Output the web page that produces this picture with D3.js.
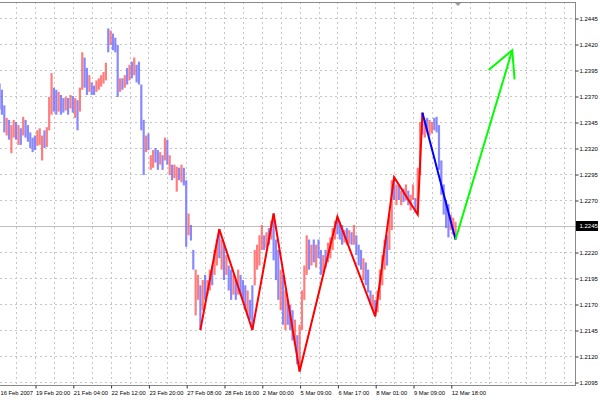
<!DOCTYPE html>
<html><head><meta charset="utf-8">
<script src="https://cdn.jsdelivr.net/npm/d3@7"></script>
<style>body{margin:0;background:#fff}svg{display:block}</style>
</head><body>
<svg id="c" width="600" height="400"></svg>
<script>
// ---- data (bars) ----
const highs = [1.2382,1.2376,1.2361,1.2349,1.2347,1.2342,1.2347,1.2345,1.2342,1.2339,
1.2350,1.2347,1.2342,1.2335,1.2330,1.2332,1.2337,1.2339,1.2332,1.2337,
1.2340,1.2369,1.2392,1.2378,1.2376,1.2374,1.2371,1.2368,1.2369,1.2368,
1.2371,1.2370,1.2368,1.2366,1.2378,1.2412,1.2407,1.2397,1.2390,1.2383,
1.2380,1.2385,1.2387,1.2390,1.2393,1.2402,1.2435,1.2433,1.2430,1.2426,
1.2419,1.2387,1.2387,1.2390,1.2397,1.2400,1.2403,1.2407,1.2400,1.2403,
1.2381,1.2347,1.2332,1.2334,1.2313,1.2318,1.2320,1.2318,1.2316,1.2313,
1.2330,1.2328,1.2313,1.2304,1.2304,1.2302,1.2301,1.2304,1.2301,1.2289,
1.2257,1.2246,1.2222,1.2203,1.2198,1.2188,1.2193,1.2198,1.2193,1.2203,
1.2207,1.2222,1.2232,1.2242,1.2232,1.2227,1.2217,1.2207,1.2203,1.2198,
1.2193,1.2203,1.2198,1.2193,1.2188,1.2183,1.2174,1.2188,1.2222,1.2227,
1.2236,1.2246,1.2236,1.2239,1.2243,1.2250,1.2257,1.2232,1.2222,1.2203,
1.2198,1.2183,1.2174,1.2169,1.2164,1.2155,1.2140,1.2150,1.2183,1.2207,
1.2236,1.2232,1.2227,1.2232,1.2227,1.2232,1.2222,1.2217,1.2222,1.2229,
1.2234,1.2243,1.2250,1.2254,1.2249,1.2246,1.2241,1.2243,1.2241,1.2239,
1.2246,1.2236,1.2227,1.2222,1.2214,1.2210,1.2203,1.2183,1.2179,1.2174,
1.2183,1.2203,1.2217,1.2232,1.2236,1.2256,1.2289,1.2292,1.2285,1.2284,
1.2279,1.2281,1.2285,1.2279,1.2275,1.2285,1.2272,1.2301,1.2345,1.2354,
1.2347,1.2349,1.2347,1.2345,1.2349,1.2350,1.2342,1.2308,1.2285,1.2270,
1.2266,1.2256,1.2253,1.2249];
const lows = [1.2357,1.2352,1.2335,1.2332,1.2328,1.2315,1.2330,1.2328,1.2323,1.2323,
1.2332,1.2330,1.2326,1.2320,1.2316,1.2318,1.2322,1.2323,1.2308,1.2320,
1.2321,1.2337,1.2352,1.2355,1.2352,1.2355,1.2352,1.2354,1.2356,1.2352,
1.2358,1.2354,1.2349,1.2337,1.2355,1.2376,1.2378,1.2371,1.2374,1.2371,
1.2371,1.2374,1.2376,1.2379,1.2382,1.2385,1.2412,1.2419,1.2414,1.2412,
1.2369,1.2374,1.2376,1.2378,1.2381,1.2385,1.2387,1.2390,1.2383,1.2381,
1.2337,1.2294,1.2316,1.2318,1.2299,1.2301,1.2306,1.2299,1.2304,1.2299,
1.2308,1.2304,1.2294,1.2289,1.2291,1.2278,1.2289,1.2287,1.2284,1.2225,
1.2236,1.2231,1.2203,1.2159,1.2174,1.2145,1.2164,1.2174,1.2179,1.2183,
1.2188,1.2198,1.2207,1.2214,1.2203,1.2193,1.2198,1.2183,1.2174,1.2179,
1.2174,1.2179,1.2179,1.2174,1.2164,1.2159,1.2155,1.2145,1.2188,1.2203,
1.2207,1.2222,1.2222,1.2224,1.2227,1.2232,1.2212,1.2193,1.2174,1.2164,
1.2150,1.2145,1.2150,1.2145,1.2135,1.2131,1.2112,1.2105,1.2145,1.2174,
1.2198,1.2203,1.2207,1.2210,1.2205,1.2214,1.2198,1.2200,1.2205,1.2210,
1.2214,1.2222,1.2232,1.2237,1.2232,1.2227,1.2229,1.2227,1.2228,1.2227,
1.2227,1.2217,1.2207,1.2203,1.2193,1.2188,1.2181,1.2169,1.2164,1.2158,
1.2162,1.2174,1.2188,1.2203,1.2207,1.2222,1.2241,1.2270,1.2265,1.2270,
1.2265,1.2268,1.2270,1.2265,1.2260,1.2270,1.2258,1.2256,1.2294,1.2333,
1.2330,1.2335,1.2332,1.2334,1.2337,1.2335,1.2299,1.2275,1.2256,1.2243,
1.2234,1.2241,1.2237,1.2232];
// u = up bar, d = down bar
const dirs = ("ddduduudud"+"uddddduuud"+"uuudduddud"+"ududuuddud"+"duuuuududd"+
  "dududududd"+"dduduuddud"+"ududuududd"+"udduududuu"+"duudududdu"+
  "dudddudduu"+"uudududddu"+"duddduduuu"+"udududdudu"+"uuudddudud"+
  "udddudddud"+"uuuuduudud"+"ududuuduud"+"uduudddddd"+"duuu").split("");
const timeLabels = ["16 Feb 2007","19 Feb 20:00","21 Feb 04:00","22 Feb 12:00","23 Feb 20:00",
  "27 Feb 08:00","28 Feb 16:00","2 Mar 00:00","5 Mar 09:00","6 Mar 17:00","8 Mar 01:00",
  "9 Mar 09:00","12 Mar 18:00"];
const timeLabelIdx = [0,16,32,48,64,80,96,112,128,144,160,176,192];
const priceTicks = [1.2095,1.2120,1.2145,1.2170,1.2195,1.2220,1.2245,1.2270,1.2295,1.2320,1.2345,1.2370,1.2395,1.2420,1.2445];
const zigzagIdx = [86,94,108,117,128,144,160,168,178,180];
const zigzagPrice = [1.2145,1.2242,1.2145,1.2257,1.2105,1.2254,1.2158,1.2292,1.2256,1.2354];
const waveIdx = [180,194];
const wavePrice = [1.2354,1.2232];
const forecastIdx = [194,218];
const forecastPrice = [1.2232,1.2414];
const arrowIdx = [208,218,219];
const arrowPrice = [1.2395,1.2414,1.2386];
const currentPrice = 1.2245;

// ---- layout ----
const plotRight = 575, plotTop = 2, plotBottom = 385;
const x = d3.scaleLinear().domain([0, 240]).range([-2.8, 564.2]);
const y = d3.scaleLinear().domain([1.2095, 1.2445]).range([382, 18]);
const svg = d3.select("#c");
const font = "'Liberation Sans', Arial, sans-serif";

// grid
const grid = svg.append("g").attr("stroke", "#c6c6c6").attr("stroke-width", 1).attr("stroke-dasharray", "2,3");
grid.selectAll("line.v").data(d3.range(8, 241, 8)).join("line")
  .attr("x1", d => Math.round(x(d)) + 0.5).attr("x2", d => Math.round(x(d)) + 0.5)
  .attr("y1", plotTop).attr("y2", plotBottom);
grid.selectAll("line.h").data(priceTicks).join("line")
  .attr("x1", 0).attr("x2", plotRight)
  .attr("y1", d => Math.round(y(d)) + 0.5).attr("y2", d => Math.round(y(d)) + 0.5);

// current price line
svg.append("line").attr("x1", 0).attr("x2", plotRight)
  .attr("y1", Math.round(y(currentPrice)) + 0.5).attr("y2", Math.round(y(currentPrice)) + 0.5)
  .attr("stroke", "#bdbdbd").attr("stroke-width", 1);

// bars
const bars = highs.map((h, i) => ({i: i + 1, h, l: lows[i], d: dirs[i]}));
svg.append("g").selectAll("line").data(bars).join("line")
  .attr("x1", d => x(d.i)).attr("x2", d => x(d.i))
  .attr("y1", d => y(d.h)).attr("y2", d => y(d.l))
  .attr("stroke", d => d.d === "u" ? "#ff5c5c" : "#6a6aff")
  .attr("stroke-opacity", 0.8)
  .attr("stroke-width", 2.2);

// zigzag lines
const line = d3.line().x(d => x(d[0])).y(d => y(d[1]));
svg.append("path").attr("d", line(zigzagIdx.map((v, k) => [v, zigzagPrice[k]])))
  .attr("fill", "none").attr("stroke", "#ff0000").attr("stroke-width", 2).attr("stroke-linejoin", "miter");
svg.append("path").attr("d", line(waveIdx.map((v, k) => [v, wavePrice[k]])))
  .attr("fill", "none").attr("stroke", "#0000ff").attr("stroke-width", 2);
svg.append("path").attr("d", line(forecastIdx.map((v, k) => [v, forecastPrice[k]])))
  .attr("fill", "none").attr("stroke", "#00ff00").attr("stroke-width", 2);
svg.append("path").attr("d", line(arrowIdx.map((v, k) => [v, arrowPrice[k]])))
  .attr("fill", "none").attr("stroke", "#00ff00").attr("stroke-width", 2);

// frame
svg.append("rect").attr("x", -1.5).attr("y", plotTop + 0.5).attr("width", plotRight + 2)
  .attr("height", plotBottom - plotTop).attr("fill", "none").attr("stroke", "#8a8a8a").attr("stroke-width", 1);

// shift marker
const sx = Math.round(x(highs.length + 1));
svg.append("path").attr("d", `M${sx - 3},${plotTop + 1}L${sx + 3},${plotTop + 1}L${sx},${plotTop + 4}Z`).attr("fill", "#9a9a9a");

// x axis
const xAxis = d3.axisBottom(x).tickValues(timeLabelIdx).tickSize(3).tickFormat((d, k) => timeLabels[k]);
const gx = svg.append("g").attr("transform", `translate(0,${plotBottom + 0.5})`).call(xAxis);
gx.select(".domain").remove();
gx.selectAll(".tick line").attr("stroke", "#333").attr("transform", "translate(0.5,0)");
gx.selectAll(".tick text").attr("text-anchor", "start").attr("y", 5)
  .attr("dx", d => (x(d) < 0 ? -x(d) : 0.5))
  .attr("font-family", font).attr("font-size", "5.8px").attr("fill", "#000");

// y axis
const yAxis = d3.axisRight(y).tickValues(priceTicks).tickSize(3).tickFormat(d3.format(".4f"));
const gy = svg.append("g").attr("transform", `translate(${plotRight + 0.5},0.5)`).call(yAxis);
gy.select(".domain").remove();
gy.selectAll(".tick line").attr("stroke", "#333");
gy.selectAll(".tick text").attr("x", 4).attr("font-family", font).attr("font-size", "6px").attr("fill", "#000");

// current price tag
const cy = y(currentPrice);
svg.append("rect").attr("x", plotRight + 1).attr("y", cy - 5).attr("width", 22).attr("height", 10).attr("fill", "#000");
svg.append("text").attr("x", plotRight + 4.5).attr("y", cy + 0.5).attr("dominant-baseline", "middle")
  .attr("font-family", font).attr("font-size", "6px").attr("fill", "#fff").text(d3.format(".4f")(currentPrice));
</script>
</body></html>
